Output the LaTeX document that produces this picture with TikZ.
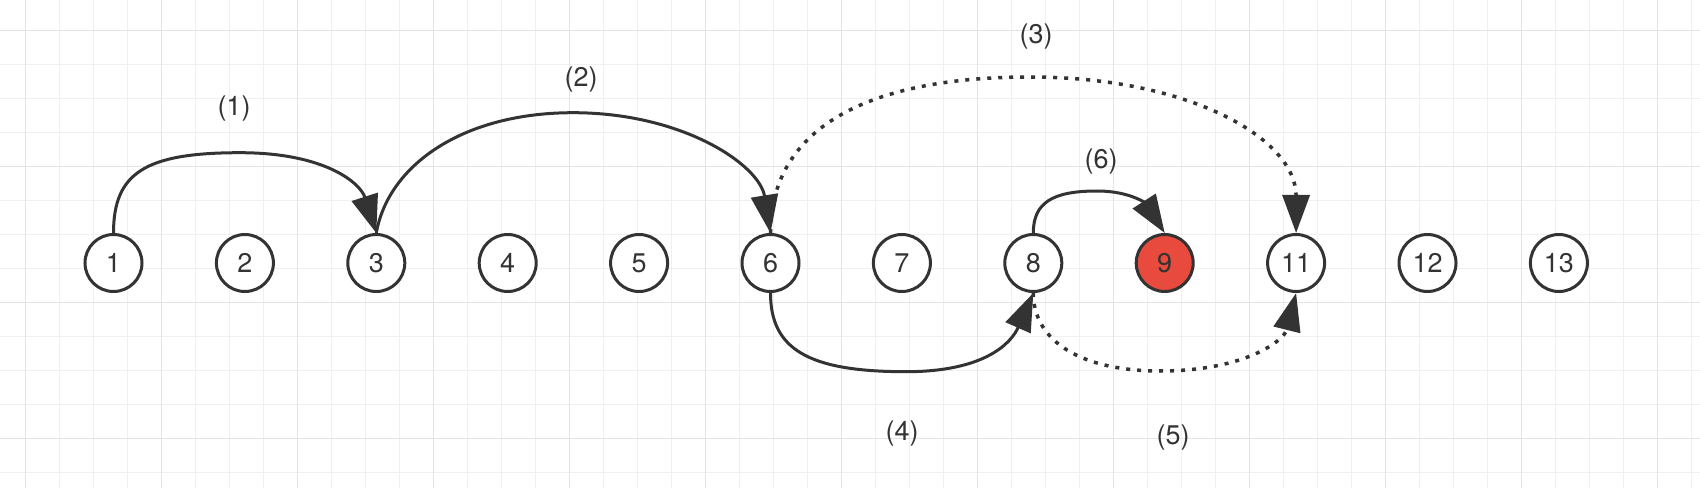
\documentclass[tikz,border=0pt]{standalone}
\usepackage{fontspec}
\setmainfont{TeX Gyre Heros}
\usetikzlibrary{arrows.meta}
\definecolor{inkc}{RGB}{51,51,51}
\definecolor{nodered}{RGB}{232,75,61}
\definecolor{gridlight}{RGB}{240,240,240}
\definecolor{griddark}{RGB}{228,228,228}
\tikzset{
  vertex/.style={circle, draw=inkc, line width=3pt, fill=white, minimum size=57pt,
    inner sep=0pt, text=inkc, font=\fontsize{27}{32}\selectfont},
  jump/.style={draw=inkc, line width=3pt, -{Triangle[length=38pt,width=27pt]}},
  dotjump/.style={jump, line width=3.5pt, dash pattern=on 4pt off 7pt},
  steplabel/.style={text=inkc, font=\fontsize{27}{32}\selectfont},
  gridline/.style={gridlight, line width=1.5pt},
}

\begin{document}
\begin{tikzpicture}[x=1pt,y=1pt]
  \useasboundingbox[fill=white] (0,0) rectangle (1700,488);
  % draw grids
  \foreach \k in {0,...,49}
    \draw[gridline] (25.6+34*\k,0) -- (25.6+34*\k,488);
  \foreach \k in {0,...,13}
    \draw[gridline] (0,457.3-34*\k) -- (1700,457.3-34*\k);
  \foreach \k in {0,4,...,48}
    \draw[gridline, griddark] (25.6+34*\k,0) -- (25.6+34*\k,488);
  \foreach \k in {0,4,8,12}
    \draw[gridline, griddark] (0,457.3-34*\k) -- (1700,457.3-34*\k);

  % nodes
  \foreach \i/\lab in {0/1,1/2,2/3,3/4,4/5,5/6,6/7,7/8,9/11,10/12,11/13}
    \node[vertex] (n\lab) at (113.5+131.4*\i,225) {\lab};
  \node[vertex, fill=nodered] (n9) at (113.5+131.4*8,225) {9};

  % turning points of the jumps
  \coordinate (top1) at (240,335.3);
  \coordinate (top2) at (573,375.3);
  \coordinate (top3) at (1030,411);
  \coordinate (top6) at (1097,297);
  \coordinate (bot4) at (906,116.3);
  \coordinate (bot5) at (1160,117);

  \draw[dotjump] (n6.north) .. controls +(0,101) and +(-169,0) .. (top3)
    .. controls +(160,0) and +(0,94) .. (n11.north);
  \draw[dotjump] (n8.south) .. controls +(0,-48) and +(-79,0) .. (bot5)
    .. controls +(84,0) and +(-12,-48) .. (n11.south);
  \draw[jump] (n1.north) .. controls +(0,60) and +(-95,0) .. (top1)
    .. controls +(85,0) and +(-16,50) .. (n3.north);
  \draw[jump] (n3.north) .. controls +(12,68) and +(-110,0) .. (top2)
    .. controls +(110,0) and +(-11,68) .. (n6.north);
  \draw[jump] (n6.south) .. controls +(0,-56) and +(-98,0) .. (bot4)
    .. controls +(79,0) and +(-22,-50) .. (n8.south);
  \draw[jump] (n8.north) .. controls +(0,30) and +(-45,0) .. (top6)
    .. controls +(35,0) and +(-18,28) .. (n9.north);

  % step labels
  \node[steplabel] (lab1) at (234,379) {(1)};
  \node[steplabel] (lab2) at (581,408) {(2)};
  \node[steplabel] (lab3) at (1036,451) {(3)};
  \node[steplabel] (lab4) at (902,54) {(4)};
  \node[steplabel] (lab5) at (1173,50) {(5)};
  \node[steplabel] (lab6) at (1101,326) {(6)};
\end{tikzpicture}
\end{document}
